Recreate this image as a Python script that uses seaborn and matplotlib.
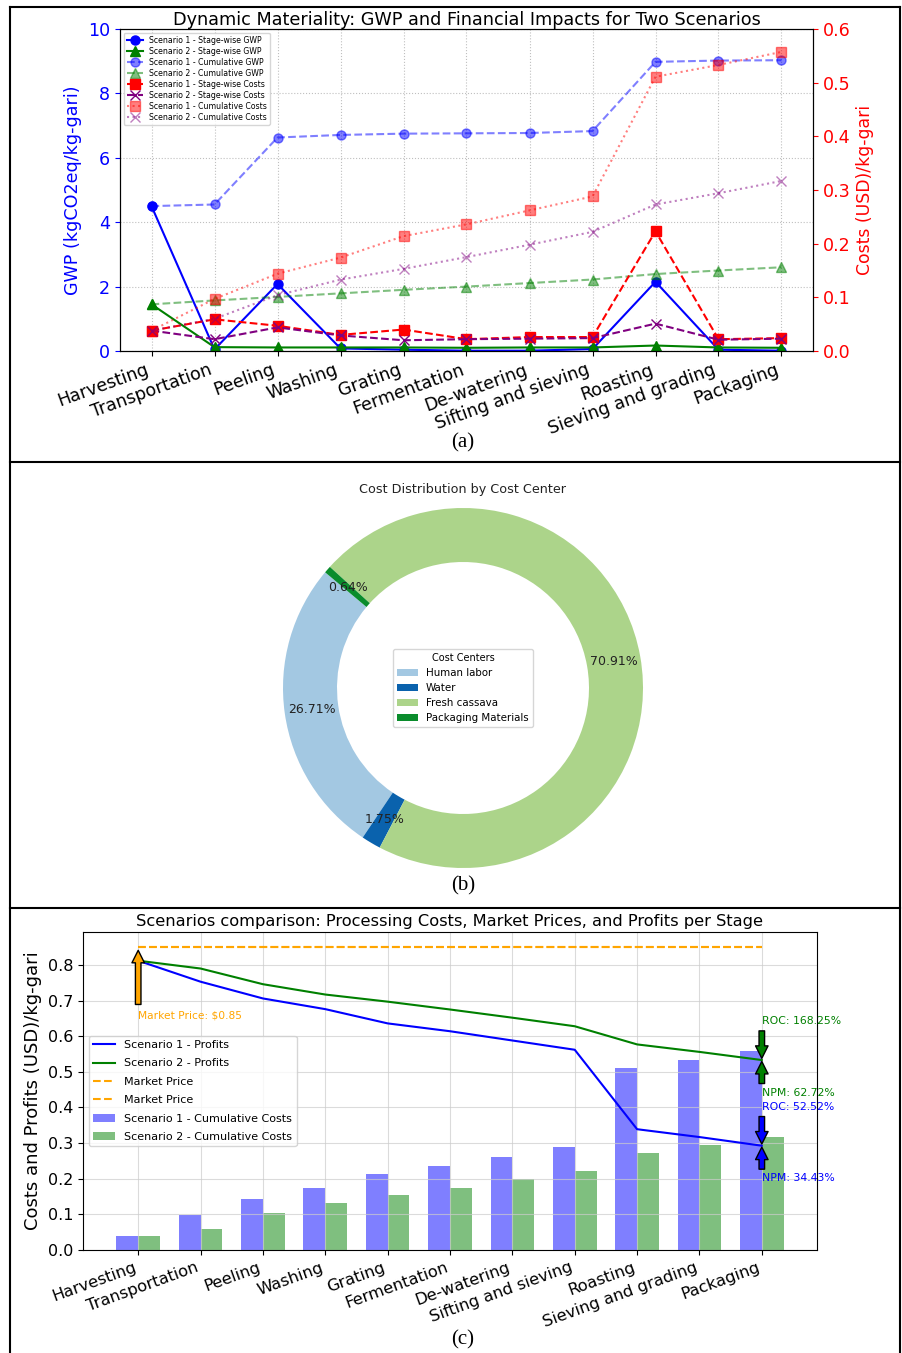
import numpy as np
import pandas as pd
import matplotlib
matplotlib.use("Agg")
import matplotlib.pyplot as plt
import seaborn as sns
from matplotlib.lines import Line2D
from matplotlib.patches import Patch

# ---------------------------------------------------------------- data
stages = ["Harvesting", "Transportation", "Peeling", "Washing", "Grating",
          "Fermentation", "De-watering", "Sifting and sieving", "Roasting",
          "Sieving and grading", "Packaging"]

# GWP per stage and running total (kgCO2eq/kg-gari)
gwp_s1_stage = [4.50, 0.05, 2.08, 0.08, 0.04, 0.01, 0.01, 0.06, 2.15, 0.04, 0.01]
gwp_s2_stage = [1.45, 0.12, 0.11, 0.11, 0.11, 0.10, 0.11, 0.11, 0.17, 0.11, 0.10]
gwp_s1_cum = [4.50, 4.55, 6.63, 6.71, 6.75, 6.76, 6.77, 6.83, 8.98, 9.02, 9.03]
gwp_s2_cum = [1.45, 1.57, 1.68, 1.79, 1.90, 2.00, 2.11, 2.22, 2.39, 2.50, 2.60]

# Processing costs per stage and running total (USD/kg-gari)
cost_s1_stage = [0.038, 0.059, 0.047, 0.030, 0.040, 0.022, 0.026, 0.026, 0.223, 0.022, 0.024]
cost_s2_stage = [0.038, 0.022, 0.044, 0.029, 0.020, 0.022, 0.023, 0.024, 0.051, 0.021, 0.023]
cost_s1_cum = [0.038, 0.097, 0.144, 0.174, 0.214, 0.236, 0.262, 0.288, 0.511, 0.533, 0.55731]
cost_s2_cum = [0.038, 0.060, 0.104, 0.133, 0.153, 0.175, 0.198, 0.222, 0.273, 0.294, 0.31687]

market_price = 0.85

# Cost centre shares (%)
cost_centers = ["Human labor", "Water", "Fresh cassava", "Packaging Materials"]
cost_shares = [26.708, 1.748, 70.906, 0.638]
pie_colors = ["#a3c8e2", "#0a62ad", "#acd48a", "#0a8c2c"]

# ---------------------------------------------------------------- figure
W, H = 903, 1353
fig = plt.figure(figsize=(W / 100, H / 100), dpi=100)


def box(left, top, right, bottom):
    return [left / W, 1 - bottom / H, (right - left) / W, (bottom - top) / H]


x = np.arange(len(stages))


def line(ax, y, color, ls, marker=None, alpha=1.0, lw=1.5):
    sns.lineplot(x=x, y=y, ax=ax, color=color, linestyle=ls, marker=marker,
                 markersize=6.5, markeredgecolor=color, markeredgewidth=1.0,
                 alpha=alpha, linewidth=lw, legend=False, errorbar=None)
    return ax.lines[-1]


# ---------------------------------------------------------------- (a)
ax1 = fig.add_axes(box(120, 29, 813, 351))
ax2 = ax1.twinx()

h = []
h.append(line(ax1, gwp_s1_stage, "blue", "-", "o"))
h.append(line(ax1, gwp_s2_stage, "green", "-", "^"))
h.append(line(ax1, gwp_s1_cum, "blue", "--", "o", alpha=0.5))
h.append(line(ax1, gwp_s2_cum, "green", "--", "^", alpha=0.5))
h.append(line(ax2, cost_s1_stage, "red", "--", "s"))
h.append(line(ax2, cost_s2_stage, "purple", "--", "x"))
h.append(line(ax2, cost_s1_cum, "red", ":", "s", alpha=0.5))
h.append(line(ax2, cost_s2_cum, "purple", ":", "x", alpha=0.5))
labels_a = ["Scenario 1 - Stage-wise GWP", "Scenario 2 - Stage-wise GWP",
            "Scenario 1 - Cumulative GWP", "Scenario 2 - Cumulative GWP",
            "Scenario 1 - Stage-wise Costs", "Scenario 2 - Stage-wise Costs",
            "Scenario 1 - Cumulative Costs", "Scenario 2 - Cumulative Costs"]

ax1.set_ylim(0, 10)
ax2.set_ylim(0, 0.6)
ax1.set_xlim(-0.5, len(stages) - 0.5)
ax1.set_xticks(x)
ax1.set_xticklabels(stages, rotation=20, ha="right", fontsize=12.6)
ax1.set_ylabel("GWP (kgCO2eq/kg-gari)", color="blue", fontsize=12.6)
ax2.set_ylabel("Costs (USD)/kg-gari", color="red", fontsize=12.4)
ax1.tick_params(axis="y", colors="blue", labelsize=12.6)
ax2.tick_params(axis="y", colors="red", labelsize=12.6)
ax1.grid(True, linestyle=":", color="gray", alpha=0.5)
ax1.set_title("Dynamic Materiality: GWP and Financial Impacts for Two Scenarios",
              fontsize=12.7, pad=3)
ax2.legend(h, labels_a, loc="upper left", fontsize=5.6, labelspacing=0.25)

# ---------------------------------------------------------------- (b)
axp = fig.add_axes(box(238, 463, 688, 913))
wedges, texts, autotexts = axp.pie(
    cost_shares, colors=pie_colors, startangle=140, autopct="%1.2f%%",
    pctdistance=0.85, wedgeprops=dict(width=0.3),
    textprops=dict(fontsize=9, color="#222222"))
axp.set_xlim(-1.25, 1.25)
axp.set_ylim(-1.25, 1.25)
axp.set_aspect("equal")
axp.text(0.5, (913 - 489) / 450, "Cost Distribution by Cost Center",
         transform=axp.transAxes, ha="center", va="center", fontsize=9.2,
         color="#222222")
axp.legend(wedges, cost_centers, title="Cost Centers", loc="center",
           fontsize=7.4, title_fontsize=7)

# ---------------------------------------------------------------- (c)
ax3 = fig.add_axes(box(83, 932, 817, 1250))
s1_bar = "Scenario 1 - Cumulative Costs"
s2_bar = "Scenario 2 - Cumulative Costs"
bars = pd.DataFrame({
    "Stage": stages * 2,
    "Scenario": [s1_bar] * len(stages) + [s2_bar] * len(stages),
    "Cost": cost_s1_cum + cost_s2_cum,
})
sns.barplot(data=bars, x="Stage", y="Cost", hue="Scenario",
            palette=["blue", "green"], alpha=0.5, saturation=1, width=0.7,
            errorbar=None, legend=False, ax=ax3)

profit_s1 = market_price - np.array(cost_s1_cum)
profit_s2 = market_price - np.array(cost_s2_cum)
price = np.full(len(stages), market_price)

l1 = line(ax3, profit_s1, "blue", "-")
l2 = line(ax3, profit_s2, "green", "-")
l3 = line(ax3, price, "orange", "--")
l4 = line(ax3, price, "orange", "--")

ax3.set_xlim(auto=True)
ax3.relim()
ax3.autoscale_view()
ax3.set_xticks(x)
ax3.set_xticklabels(stages, rotation=20, ha="right", fontsize=11.7)
ax3.tick_params(axis="y", labelsize=11.5)
ax3.set_xlabel("")
ax3.set_ylabel("Costs and Profits (USD)/kg-gari", fontsize=13)
ax3.grid(True, color="#cccccc", alpha=0.7)
ax3.set_title("Scenarios comparison: Processing Costs, Market Prices, and Profits per Stage",
              fontsize=11.7, pad=4)

arrow = dict(shrink=0.05, width=4, headwidth=9, headlength=9)
ax3.annotate(f"Market Price: ${market_price:.2f}", xy=(x[0], market_price),
             xytext=(x[0], market_price - 0.2), color="orange", fontsize=7.7,
             arrowprops=dict(facecolor="orange", **arrow))

last = x[-1]
for profit, cost, col in [(profit_s2[-1], cost_s2_cum[-1], "green"),
                          (profit_s1[-1], cost_s1_cum[-1], "blue")]:
    roc = profit / cost * 100
    npm = profit / market_price * 100
    ax3.annotate(f"ROC: {roc:.2f}%", xy=(last, profit), xytext=(last, profit + 0.1),
                 color=col, fontsize=7.8, arrowprops=dict(facecolor=col, **arrow))
    ax3.annotate(f"NPM: {npm:.2f}%", xy=(last, profit), xytext=(last, profit - 0.1),
                 color=col, fontsize=7.8, arrowprops=dict(facecolor=col, **arrow))

handles_c = [l1, l2, l3, l4,
             Patch(facecolor="blue", alpha=0.5), Patch(facecolor="green", alpha=0.5)]
labels_c = ["Scenario 1 - Profits", "Scenario 2 - Profits", "Market Price",
            "Market Price", s1_bar, s2_bar]
ax3.legend(handles_c, labels_c, loc="center left", fontsize=8, labelspacing=0.75)

# ---------------------------------------------------------------- frame and panel tags
frame = dict(transform=fig.transFigure, color="black", lw=1.5)
xl, xr, yt, yb = 10 / W, 900 / W, 1 - 7 / H, 0.0
fig.add_artist(Line2D([xl, xl], [yb, yt], **frame))
fig.add_artist(Line2D([xr, xr], [yb, yt], **frame))
fig.add_artist(Line2D([xl, xr], [yt, yt], **frame))
for ysep in (462, 908):
    fig.add_artist(Line2D([xl, xr], [1 - ysep / H, 1 - ysep / H], **frame))

for tag, ypix in (("(a)", 443), ("(b)", 886), ("(c)", 1340)):
    fig.text(463 / W, 1 - ypix / H, tag, ha="center", va="center",
             fontfamily="Liberation Serif", fontsize=15)

fig.savefig("out.png", dpi=100)
